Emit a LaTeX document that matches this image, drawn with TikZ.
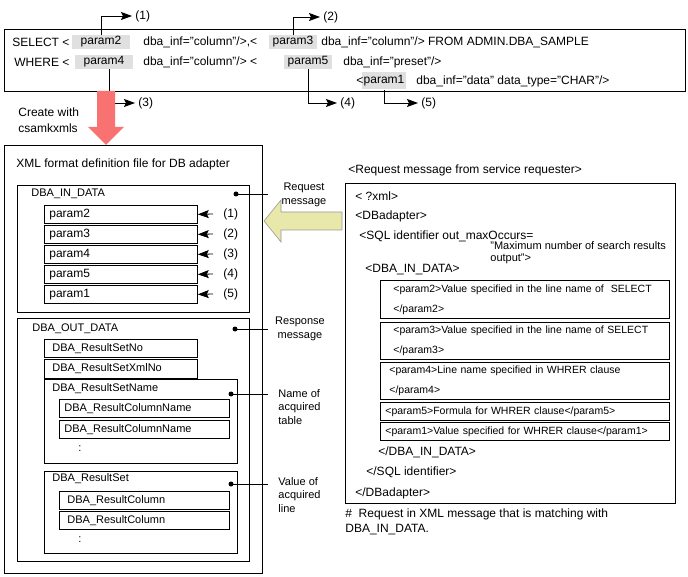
\documentclass[tikz,border=0pt]{standalone}
\usepackage{fontspec}
\setmainfont{Liberation Sans}
\usetikzlibrary{arrows.meta}

\definecolor{hlgray}{RGB}{224,224,224}
\definecolor{redarrow}{RGB}{248,114,114}
\definecolor{yelarrow}{RGB}{232,232,170}

\tikzset{
  frame/.style={draw, anchor=north west, inner sep=0pt},
  txt/.style={anchor=west, inner sep=0pt, font=\fontsize{12}{14}\selectfont},
  stxt/.style={anchor=west, inner sep=0pt, font=\fontsize{11}{13}\selectfont},
  hl/.style={fill=hlgray, inner sep=0pt, minimum height=14pt, font=\fontsize{12}{14}\selectfont},
  fld/.style={draw, anchor=north west, inner ysep=0pt, minimum height=18pt, align=left, font=\fontsize{12}{14}\selectfont},
  xbox/.style={draw, anchor=north west, inner ysep=0pt, align=left, font=\fontsize{10.5}{20}\selectfont},
  note/.style={inner sep=0pt, font=\fontsize{11}{14}\selectfont},
  toplbl/.style={anchor=west, inner xsep=3pt, inner ysep=0pt, font=\fontsize{12}{14}\selectfont},
  sidelbl/.style={anchor=west, inner xsep=10pt, inner ysep=0pt, font=\fontsize{12}{14}\selectfont},
  lead/.style={-{Stealth[length=11pt,width=8pt,inset=2pt]}},
  dot/.style={circle, fill, inner sep=0pt, minimum size=5pt},
}

\begin{document}
\begin{tikzpicture}[x=1pt, y=-1pt, line width=0.8pt]
  \useasboundingbox (0,0) rectangle (688,577);

  % SQL 语句框
  \node[frame, minimum width=681pt, minimum height=62pt] (sqlbox) at (4,29) {};
  \node[hl, minimum width=58pt] (p2) at (101,42) {param2};
  \node[hl, minimum width=48pt] (p3) at (293,42) {param3};
  \node[hl, minimum width=58pt] (p4) at (104,62) {param4};
  \node[hl, minimum width=48pt] (p5) at (308,62) {param5};
  \node[hl, minimum width=44pt, minimum height=17pt] (p1) at (384,81) {param1};
  \node[txt] (s1) at (12,42) {SELECT <};
  \node[txt] (s2) at (143,42) {dba\_inf="column"/>,<};
  \node[txt] (s3) at (321,42) {dba\_inf="column"/> FROM ADMIN.DBA\_SAMPLE};
  \node[txt] (w1) at (14,62) {WHERE <};
  \node[txt] (w2) at (143,62) {dba\_inf="column"/> <};
  \node[txt] (w3) at (343,62) {dba\_inf="preset"/>};
  \node[txt] (w4) at (356,81) {<};
  \node[txt] (w5) at (416,81) {dba\_inf="data" data\_type="CHAR"/>};

  % 参数编号引出线
  \node[toplbl] (n1) at (132,16) {(1)};
  \node[toplbl] (n2) at (320,17) {(2)};
  \node[toplbl] (n3) at (135,103) {(3)};
  \node[toplbl] (n4) at (337,103) {(4)};
  \node[toplbl] (n5) at (418,103) {(5)};
  \draw[lead] (p2.north) |- (n1.west);
  \draw[lead] (p3.north) |- (n2.west);
  \draw[lead] ([xshift=5pt]p4.south) |- (n3.west);
  \draw[lead] (p5.south) |- (n4.west);
  \draw[lead] (p1.south) |- (n5.west);

  % 生成箭头（红）
  \fill[redarrow] (97,91) -- (115,91) -- (115,127) -- (124,127) -- (106,145)
                  -- (88,127) -- (97,127) -- cycle;
  \node[txt, align=left, font=\fontsize{12}{16}\selectfont] (mk) at (18,120) {Create with\\csamkxmls};

  % 左侧：XML 格式定义文件
  \node[frame, minimum width=258pt, minimum height=428pt] (xmldef) at (4,145) {};
  \node[txt] (xmltitle) at (16,164) {XML format definition file for DB adapter};

  % DBA_IN_DATA
  \node[frame, minimum width=232pt, minimum height=127pt] (indata) at (17,185) {};
  \node[stxt] (inlbl) at (31,194) {DBA\_IN\_DATA};
  \node[fld, inner xsep=5pt, text width=143pt] (q1) at (44,205) {param2};
  \node[fld, inner xsep=5pt, text width=143pt] (q2) at (44,225) {param3};
  \node[fld, inner xsep=5pt, text width=143pt] (q3) at (44,245) {param4};
  \node[fld, inner xsep=5pt, text width=143pt] (q4) at (44,265) {param5};
  \node[fld, inner xsep=5pt, text width=143pt] (q5) at (44,285) {param1};
  \node[sidelbl] (c1) at (213,214) {(1)};
  \node[sidelbl] (c2) at (213,234) {(2)};
  \node[sidelbl] (c3) at (213,254) {(3)};
  \node[sidelbl] (c4) at (213,274) {(4)};
  \node[sidelbl] (c5) at (213,294) {(5)};
  \draw[lead] (c1.west) -- (q1.east);
  \draw[lead] (c2.west) -- (q2.east);
  \draw[lead] (c3.west) -- (q3.east);
  \draw[lead] (c4.west) -- (q4.east);
  \draw[lead] (c5.west) -- (q5.east);
  \node[dot] (d1) at (236,194) {};
  \coordinate (e1) at (268,194);
  \draw (d1.center) -- (e1);
  \node[note, align=center] (m1) at (304,195) {Request\\message};

  % DBA_OUT_DATA
  \node[frame, minimum width=232pt, minimum height=243pt] (outdata) at (17,318) {};
  \node[stxt] (outlbl) at (32,329) {DBA\_OUT\_DATA};
  \node[fld, inner xsep=8pt, text width=137pt, font=\fontsize{11}{13}\selectfont] (rno) at (44,339) {DBA\_ResultSetNo};
  \node[fld, inner xsep=8pt, text width=137pt, font=\fontsize{11}{13}\selectfont, minimum height=19pt] (rxno) at (44,359) {DBA\_ResultSetXmlNo};
  \node[dot] (d2) at (235,329) {};
  \coordinate (e2) at (268,329);
  \draw (d2.center) -- (e2);
  \node[note, align=center] (m2) at (300,329) {Response\\message};

  % 取得的表名
  \node[frame, minimum width=193pt, minimum height=84pt] (rname) at (44,379) {};
  \node[stxt] (rnamelbl) at (52,389) {DBA\_ResultSetName};
  \node[fld, inner xsep=5pt, text width=160pt, font=\fontsize{11}{13}\selectfont] (cn1) at (59,399) {DBA\_ResultColumnName};
  \node[fld, inner xsep=5pt, text width=160pt, font=\fontsize{11}{13}\selectfont] (cn2) at (59,420) {DBA\_ResultColumnName};
  \node[stxt] (v1) at (78,449) {:};
  \node[dot] (d3) at (231,394) {};
  \coordinate (e3) at (268,394);
  \draw (d3.center) -- (e3);
  \node[note, anchor=west, align=left, font=\fontsize{11}{13.5}\selectfont] (m3) at (278,407) {Name of\\acquired\\table};

  % 取得的行值
  \node[frame, minimum width=193pt, minimum height=82pt] (rset) at (44,471) {};
  \node[stxt] (rsetlbl) at (52,479) {DBA\_ResultSet};
  \node[fld, inner xsep=8pt, text width=154pt, font=\fontsize{11}{13}\selectfont, minimum height=17.5pt] (rc1) at (59,491) {DBA\_ResultColumn};
  \node[fld, inner xsep=8pt, text width=154pt, font=\fontsize{11}{13}\selectfont, minimum height=17.5pt] (rc2) at (59,511) {DBA\_ResultColumn};
  \node[stxt] (v2) at (78,540) {:};
  \node[dot] (d4) at (231,484) {};
  \coordinate (e4) at (268,484);
  \draw (d4.center) -- (e4);
  \node[note, anchor=west, align=left, font=\fontsize{11}{13.5}\selectfont] (m4) at (278,495) {Value of\\acquired\\line};

  % 请求消息箭头（黄）
  \filldraw[fill=yelarrow, draw=black!40, line width=0.6pt]
      (264,221) -- (281,200) -- (281,212) -- (342,212) -- (342,230)
      -- (281,230) -- (281,242) -- cycle;

  % 右侧：服务请求者的请求消息
  \node[txt] (reqtitle) at (348,170) {<Request message from service requester>};
  \node[frame, minimum width=330pt, minimum height=320pt] (reqbox) at (345,183) {};
  \node[txt] (x1) at (355,196) {< ?xml>};
  \node[txt] (x2) at (355,216) {<DBadapter>};
  \node[txt] (x3) at (359,236) {<SQL identifier out\_maxOccurs=};
  \node[stxt, align=left, font=\fontsize{11}{12}\selectfont] (x4) at (490,253) {"Maximum number of search results\\output">};
  \node[txt] (x5) at (365,270) {<DBA\_IN\_DATA>};
  \node[xbox, inner xsep=13pt, text width=263pt, minimum height=38pt] (xb2) at (380,280)
      {<param2>Value specified in the line name of \ SELECT\\</param2>};
  \node[xbox, inner xsep=13pt, text width=263pt, minimum height=37pt] (xb3) at (380,322)
      {<param3>Value specified in the line name of SELECT\\</param3>};
  \node[xbox, inner xsep=9pt, text width=271pt, minimum height=37pt] (xb4) at (380,362)
      {<param4>Line name specified in WHRER clause\\</param4>};
  \node[xbox, inner xsep=5pt, text width=279pt, minimum height=18pt] (xb5) at (380,402)
      {<param5>Formula for WHRER clause</param5>};
  \node[xbox, inner xsep=5pt, text width=279pt, minimum height=18pt] (xb1) at (380,422)
      {<param1>Value specified for WHRER clause</param1>};
  \node[txt] (x6) at (378,452) {</DBA\_IN\_DATA>};
  \node[txt] (x7) at (366,472) {</SQL identifier>};
  \node[txt] (x8) at (355,493) {</DBadapter>};
  \node[txt, align=left, font=\fontsize{12}{15}\selectfont] (fn) at (345,522)
      {\#\ \ Request in XML message that is matching with\\DBA\_IN\_DATA.};
\end{tikzpicture}
\end{document}
